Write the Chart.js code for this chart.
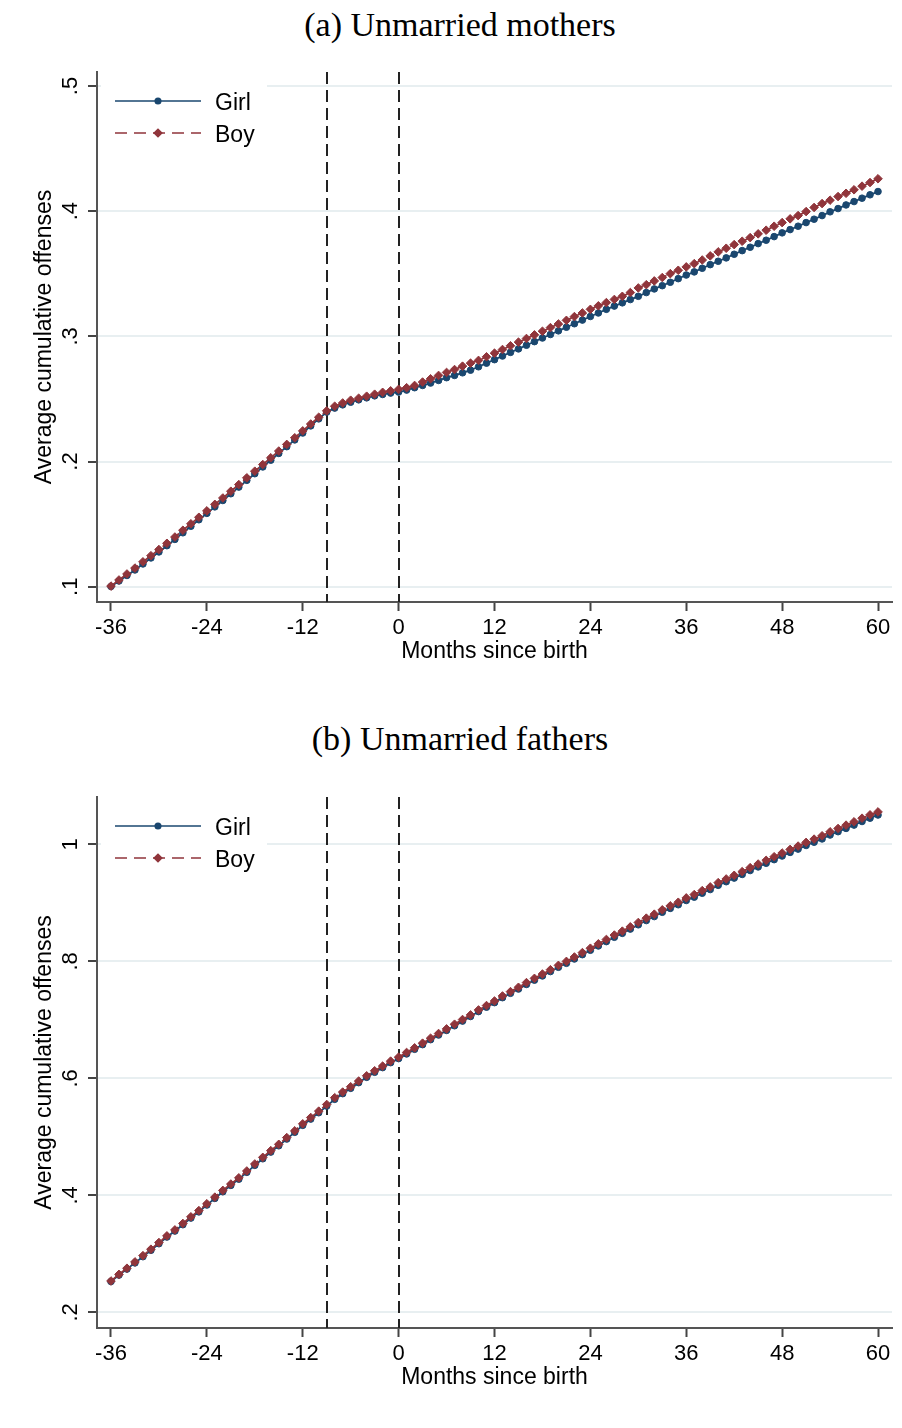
<!DOCTYPE html>
<html>
<head>
<meta charset="utf-8">
<title>Average cumulative offenses by sex of child</title>
<script src="https://cdn.jsdelivr.net/npm/chart.js@4.4.1/dist/chart.umd.min.js"></script>
<style>
    body { margin: 0; background: #fff; }
    .panel { position: relative; width: 902px; height: 714px; }
    .panel h2 {
        position: absolute; top: 8px; left: 0; width: 920px; margin: 0;
        text-align: center; font: normal 34px "Liberation Serif", serif; line-height: 34px; color: #000;
    }
    .panel canvas { position: absolute; top: 0; left: 0; }
</style>
</head>
<body>
<div class="panel">
    <h2>(a) Unmarried mothers</h2>
    <canvas id="chart-mothers" width="902" height="714"></canvas>
</div>
<div class="panel">
    <h2>(b) Unmarried fathers</h2>
    <canvas id="chart-fathers" width="902" height="714"></canvas>
</div>
<script>
// months since birth
const months = [
    -36, -35, -34, -33, -32, -31, -30, -29, -28, -27,
    -26, -25, -24, -23, -22, -21, -20, -19, -18, -17,
    -16, -15, -14, -13, -12, -11, -10, -9, -8, -7,
    -6, -5, -4, -3, -2, -1, 0, 1, 2, 3,
    4, 5, 6, 7, 8, 9, 10, 11, 12, 13,
    14, 15, 16, 17, 18, 19, 20, 21, 22, 23,
    24, 25, 26, 27, 28, 29, 30, 31, 32, 33,
    34, 35, 36, 37, 38, 39, 40, 41, 42, 43,
    44, 45, 46, 47, 48, 49, 50, 51, 52, 53,
    54, 55, 56, 57, 58, 59, 60
];

// (a) unmarried mothers
const mothersGirl = [
    0.1002, 0.1046, 0.1090, 0.1134, 0.1182, 0.1230, 0.1278, 0.1328, 0.1378, 0.1431,
    0.1483, 0.1535, 0.1586, 0.1638, 0.1689, 0.1743, 0.1796, 0.1850, 0.1903, 0.1957,
    0.2011, 0.2065, 0.2119, 0.2173, 0.2228, 0.2285, 0.2341, 0.2395, 0.2427, 0.2453,
    0.2474, 0.2493, 0.2509, 0.2525, 0.2536, 0.2547, 0.2555, 0.2571, 0.2590, 0.2608,
    0.2627, 0.2648, 0.2670, 0.2688, 0.2709, 0.2730, 0.2757, 0.2786, 0.2814, 0.2843,
    0.2872, 0.2900, 0.2929, 0.2958, 0.2987, 0.3015, 0.3044, 0.3073, 0.3101, 0.3130,
    0.3159, 0.3187, 0.3216, 0.3242, 0.3268, 0.3294, 0.3320, 0.3350, 0.3379, 0.3405,
    0.3432, 0.3461, 0.3490, 0.3515, 0.3544, 0.3573, 0.3600, 0.3627, 0.3656, 0.3685,
    0.3712, 0.3741, 0.3768, 0.3797, 0.3827, 0.3853, 0.3880, 0.3909, 0.3936, 0.3965,
    0.3995, 0.4021, 0.4050, 0.4077, 0.4104, 0.4131, 0.4157
];
const mothersBoy = [
    0.1005, 0.1054, 0.1102, 0.1149, 0.1199, 0.1248, 0.1297, 0.1347, 0.1397, 0.1451,
    0.1503, 0.1555, 0.1606, 0.1658, 0.1709, 0.1763, 0.1816, 0.1870, 0.1923, 0.1976,
    0.2030, 0.2084, 0.2137, 0.2190, 0.2245, 0.2300, 0.2354, 0.2405, 0.2442, 0.2468,
    0.2490, 0.2506, 0.2522, 0.2538, 0.2553, 0.2565, 0.2577, 0.2590, 0.2608, 0.2635,
    0.2661, 0.2688, 0.2712, 0.2735, 0.2762, 0.2786, 0.2808, 0.2837, 0.2866, 0.2895,
    0.2925, 0.2954, 0.2983, 0.3012, 0.3041, 0.3070, 0.3099, 0.3128, 0.3158, 0.3187,
    0.3216, 0.3244, 0.3270, 0.3295, 0.3320, 0.3350, 0.3387, 0.3413, 0.3443, 0.3470,
    0.3501, 0.3528, 0.3555, 0.3581, 0.3610, 0.3643, 0.3675, 0.3704, 0.3733, 0.3760,
    0.3789, 0.3819, 0.3848, 0.3880, 0.3909, 0.3939, 0.3965, 0.3997, 0.4030, 0.4061,
    0.4088, 0.4117, 0.4143, 0.4171, 0.4200, 0.4229, 0.4259
];

// (b) unmarried fathers
const fathersGirl = [
    0.2527, 0.2637, 0.2740, 0.2846, 0.2952, 0.3061, 0.3174, 0.3288, 0.3390, 0.3499,
    0.3612, 0.3718, 0.3835, 0.3948, 0.4062, 0.4171, 0.4277, 0.4394, 0.4513, 0.4626,
    0.4740, 0.4848, 0.4963, 0.5078, 0.5197, 0.5304, 0.5413, 0.5526, 0.5642, 0.5739,
    0.5830, 0.5927, 0.6018, 0.6104, 0.6184, 0.6269, 0.6338, 0.6418, 0.6497, 0.6577,
    0.6662, 0.6741, 0.6820, 0.6900, 0.6979, 0.7058, 0.7142, 0.7217, 0.7295, 0.7380,
    0.7454, 0.7527, 0.7606, 0.7679, 0.7751, 0.7826, 0.7899, 0.7967, 0.8041, 0.8115,
    0.8190, 0.8264, 0.8338, 0.8412, 0.8479, 0.8552, 0.8625, 0.8698, 0.8766, 0.8839,
    0.8906, 0.8968, 0.9041, 0.9098, 0.9165, 0.9228, 0.9300, 0.9362, 0.9424, 0.9486,
    0.9553, 0.9615, 0.9677, 0.9739, 0.9801, 0.9863, 0.9919, 0.9981, 1.0037, 1.0093,
    1.0160, 1.0217, 1.0273, 1.0330, 1.0391, 1.0448, 1.0502
];
const fathersBoy = [
    0.2537, 0.2650, 0.2755, 0.2863, 0.2970, 0.3080, 0.3194, 0.3308, 0.3410, 0.3520,
    0.3634, 0.3740, 0.3857, 0.3970, 0.4085, 0.4194, 0.4300, 0.4417, 0.4537, 0.4650,
    0.4765, 0.4873, 0.4988, 0.5103, 0.5223, 0.5331, 0.5440, 0.5554, 0.5670, 0.5766,
    0.5857, 0.5954, 0.6044, 0.6130, 0.6210, 0.6295, 0.6363, 0.6443, 0.6522, 0.6602,
    0.6687, 0.6767, 0.6846, 0.6926, 0.7006, 0.7085, 0.7170, 0.7245, 0.7323, 0.7409,
    0.7483, 0.7557, 0.7637, 0.7710, 0.7783, 0.7858, 0.7932, 0.8000, 0.8075, 0.8150,
    0.8225, 0.8300, 0.8375, 0.8450, 0.8517, 0.8591, 0.8665, 0.8739, 0.8807, 0.8881,
    0.8949, 0.9011, 0.9085, 0.9142, 0.9210, 0.9273, 0.9346, 0.9409, 0.9471, 0.9534,
    0.9602, 0.9664, 0.9727, 0.9789, 0.9852, 0.9914, 0.9971, 1.0034, 1.0090, 1.0147,
    1.0215, 1.0272, 1.0329, 1.0386, 1.0448, 1.0505, 1.0555
];

// axes
const xTicks = [-36, -24, -12, 0, 12, 24, 36, 48, 60];
const eventMonths = [-9, 0];
const mothersYTicks = [0.1, 0.2, 0.3, 0.4, 0.5];
const mothersYLabels = ['.1', '.2', '.3', '.4', '.5'];
const fathersYTicks = [0.2, 0.4, 0.6, 0.8, 1];
const fathersYLabels = ['.2', '.4', '.6', '.8', '1'];

const sans = '"Liberation Sans", Arial, sans-serif';
const navy = '#1a476f';
const maroon = '#90353b';

// dashed event lines, rotated y labels and the legend in the top left corner
const extras = {
    id: 'extras',
    beforeDatasetsDraw(chart) {
        const { ctx, chartArea: a, scales: { x } } = chart;
        ctx.save();
        ctx.fillStyle = '#fff';
        ctx.fillRect(a.left + 4, a.top + 8, 166, 74);
        ctx.strokeStyle = '#222';
        ctx.lineWidth = 2;
        ctx.setLineDash([12, 6]);
        eventMonths.forEach(m => {
            const px = Math.round(x.getPixelForValue(m));
            ctx.beginPath();
            ctx.moveTo(px, a.top);
            ctx.lineTo(px, a.bottom);
            ctx.stroke();
        });
        ctx.restore();
    },
    afterDraw(chart) {
        const { ctx, chartArea: a, scales: { y } } = chart;
        ctx.save();
        ctx.fillStyle = '#000';
        ctx.font = '22px ' + sans;
        ctx.textAlign = 'center';
        ctx.textBaseline = 'alphabetic';
        y.ticks.forEach(t => {
            ctx.save();
            ctx.translate(a.left - 20, y.getPixelForValue(t.value));
            ctx.rotate(-Math.PI / 2);
            ctx.fillText(t.label, 0, 0);
            ctx.restore();
        });

        chart.data.datasets.forEach((ds, i) => {
            const ly = a.top + 29 + i * 32;
            ctx.strokeStyle = ds.borderColor;
            ctx.lineWidth = 1.5;
            ctx.setLineDash(ds.borderDash ? [12, 7] : []);
            ctx.beginPath();
            ctx.moveTo(a.left + 18, ly);
            ctx.lineTo(a.left + 104, ly);
            ctx.stroke();
            ctx.setLineDash([]);
            ctx.fillStyle = ds.backgroundColor;
            Chart.helpers.drawPoint(ctx, {
                pointStyle: ds.pointStyle, radius: ds.pointRadius - 0.5, rotation: 0, borderWidth: 1
            }, a.left + 61, ly);
            ctx.fillStyle = '#000';
            ctx.font = '23px ' + sans;
            ctx.textAlign = 'left';
            ctx.fillText(ds.label, a.left + 118, ly + 8.5);
        });
        ctx.restore();
    }
};

function drawPanel(id, girl, boy, yMin, yMax, yTicks, yLabels, padTop, padBottom) {
    const ctx = document.getElementById(id).getContext('2d');
    return new Chart(ctx, {
        type: 'line',
        data: {
            datasets: [{
                label: 'Girl',
                data: months.map((m, i) => ({ x: m, y: girl[i] })),
                borderColor: navy,
                backgroundColor: navy,
                borderWidth: 1.8,
                pointStyle: 'circle',
                pointRadius: 3.3,
                pointBorderWidth: 1,
                order: 1
            }, {
                label: 'Boy',
                data: months.map((m, i) => ({ x: m, y: boy[i] })),
                borderColor: maroon,
                backgroundColor: maroon,
                borderWidth: 1.8,
                borderDash: [8, 5],
                pointStyle: 'rectRot',
                pointRadius: 4.3,
                pointBorderWidth: 1,
                order: 0
            }]
        },
        options: {
            responsive: false,
            animation: false,
            layout: { padding: { top: padTop, right: 10, bottom: padBottom, left: 0 } },
            plugins: { legend: { display: false }, tooltip: { enabled: false } },
            scales: {
                x: {
                    type: 'linear',
                    min: -37.75,
                    max: 61.75,
                    afterBuildTicks: s => { s.ticks = xTicks.map(v => ({ value: v })); },
                    afterFit: s => { s.height = 70; },
                    ticks: { color: '#000', font: { family: sans, size: 22 }, padding: 4, callback: v => String(v) },
                    grid: { drawOnChartArea: false, tickLength: 9, tickColor: '#444', tickWidth: 2 },
                    border: { color: '#555', width: 2 },
                    title: {
                        display: true, text: 'Months since birth', color: '#000',
                        font: { family: sans, size: 23 }, padding: { top: 0, bottom: 7 }
                    }
                },
                y: {
                    min: yMin,
                    max: yMax,
                    afterBuildTicks: s => { s.ticks = yTicks.map(v => ({ value: v })); },
                    afterFit: s => { s.width = 97; },
                    ticks: { display: false, callback: v => yLabels[yTicks.indexOf(v)] },
                    grid: { color: '#e8eff1', lineWidth: 2, tickLength: 9, tickColor: '#444', tickWidth: 2 },
                    border: { color: '#555', width: 2 },
                    title: {
                        display: true, text: 'Average cumulative offenses', color: '#000',
                        font: { family: sans, size: 23 }, padding: { top: 31, bottom: 0 }
                    }
                }
            }
        },
        plugins: [extras]
    });
}

drawPanel('chart-mothers', mothersGirl, mothersBoy, 0.0878, 0.5112, mothersYTicks, mothersYLabels, 72, 42);
drawPanel('chart-fathers', fathersGirl, fathersBoy, 0.1733, 1.081, fathersYTicks, fathersYLabels, 83, 30);
</script>
</body>
</html>
